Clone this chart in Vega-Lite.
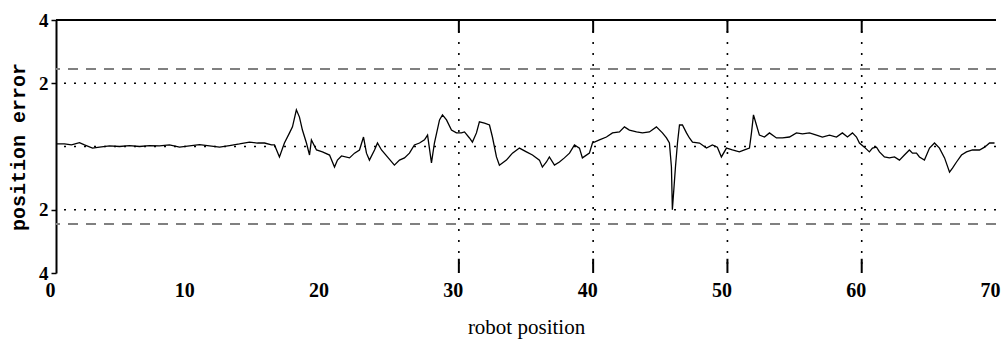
{
  "$schema": "https://vega.github.io/schema/vega-lite/v6.json",
  "autosize": "none",
  "width": 940,
  "height": 253,
  "padding": {"left": 56, "top": 20, "right": 8, "bottom": 70},
  "background": "white",
  "config": {"view": {"stroke": null}},
  "datasets": {
    "hgrid": [{"y": 2}, {"y": 0}, {"y": -2}],
    "bounds": [{"y": 2.45}, {"y": -2.45}],
    "vgrid": [{"x": 30}, {"x": 40}, {"x": 50}, {"x": 60}],
    "err": [
      {"x": 0.04, "y": 0.08}, {"x": 0.63, "y": 0.08}, {"x": 1.15, "y": 0.05}, {"x": 1.75, "y": 0.12},
      {"x": 2.12, "y": 0.05}, {"x": 2.72, "y": -0.05}, {"x": 3.24, "y": -0.02}, {"x": 3.98, "y": 0.02},
      {"x": 4.73, "y": 0.0}, {"x": 5.47, "y": 0.03}, {"x": 6.22, "y": 0.0}, {"x": 6.96, "y": 0.03},
      {"x": 7.71, "y": 0.02}, {"x": 8.45, "y": 0.05}, {"x": 9.2, "y": -0.02}, {"x": 9.94, "y": 0.02},
      {"x": 10.69, "y": 0.06}, {"x": 11.43, "y": 0.02}, {"x": 12.18, "y": -0.02}, {"x": 12.92, "y": 0.03},
      {"x": 13.66, "y": 0.08}, {"x": 14.41, "y": 0.14}, {"x": 15.0, "y": 0.11}, {"x": 15.53, "y": 0.11},
      {"x": 16.05, "y": 0.05}, {"x": 16.27, "y": 0.05}, {"x": 16.64, "y": -0.33}, {"x": 17.01, "y": 0.11},
      {"x": 17.39, "y": 0.43}, {"x": 17.61, "y": 0.62}, {"x": 17.9, "y": 1.16}, {"x": 18.13, "y": 0.93},
      {"x": 18.35, "y": 0.52}, {"x": 18.65, "y": 0.11}, {"x": 18.88, "y": -0.27}, {"x": 19.02, "y": 0.21},
      {"x": 19.4, "y": -0.11}, {"x": 19.84, "y": -0.17}, {"x": 20.37, "y": -0.27}, {"x": 20.74, "y": -0.65},
      {"x": 20.96, "y": -0.43}, {"x": 21.26, "y": -0.3}, {"x": 21.86, "y": -0.36}, {"x": 22.23, "y": -0.21},
      {"x": 22.6, "y": -0.11}, {"x": 22.9, "y": 0.3}, {"x": 23.12, "y": -0.21}, {"x": 23.34, "y": -0.43},
      {"x": 23.72, "y": -0.11}, {"x": 23.94, "y": 0.11}, {"x": 24.24, "y": -0.11}, {"x": 24.68, "y": -0.33},
      {"x": 25.2, "y": -0.59}, {"x": 25.58, "y": -0.43}, {"x": 25.95, "y": -0.36}, {"x": 26.32, "y": -0.21},
      {"x": 26.69, "y": 0.05}, {"x": 27.07, "y": 0.11}, {"x": 27.44, "y": 0.21}, {"x": 27.67, "y": 0.36},
      {"x": 27.96, "y": -0.52}, {"x": 28.18, "y": 0.11}, {"x": 28.56, "y": 0.84}, {"x": 28.78, "y": 1.0},
      {"x": 29.08, "y": 0.84}, {"x": 29.45, "y": 0.52}, {"x": 29.82, "y": 0.43}, {"x": 30.19, "y": 0.43},
      {"x": 30.42, "y": 0.46}, {"x": 30.79, "y": 0.27}, {"x": 31.01, "y": 0.14}, {"x": 31.31, "y": 0.43},
      {"x": 31.53, "y": 0.78}, {"x": 31.91, "y": 0.74}, {"x": 32.28, "y": 0.68}, {"x": 32.5, "y": 0.3},
      {"x": 32.8, "y": -0.33}, {"x": 33.02, "y": -0.59}, {"x": 33.54, "y": -0.43}, {"x": 33.99, "y": -0.21},
      {"x": 34.51, "y": -0.05}, {"x": 35.03, "y": -0.17}, {"x": 35.48, "y": -0.27}, {"x": 36.0, "y": -0.43},
      {"x": 36.22, "y": -0.65}, {"x": 36.52, "y": -0.49}, {"x": 36.74, "y": -0.33}, {"x": 37.12, "y": -0.59},
      {"x": 37.49, "y": -0.49}, {"x": 37.86, "y": -0.36}, {"x": 38.24, "y": -0.21}, {"x": 38.61, "y": 0.05},
      {"x": 38.98, "y": -0.05}, {"x": 39.2, "y": -0.36}, {"x": 39.72, "y": -0.21}, {"x": 39.95, "y": 0.11},
      {"x": 40.47, "y": 0.21}, {"x": 40.99, "y": 0.3}, {"x": 41.44, "y": 0.43}, {"x": 41.96, "y": 0.46},
      {"x": 42.33, "y": 0.62}, {"x": 42.7, "y": 0.52}, {"x": 43.23, "y": 0.46}, {"x": 43.67, "y": 0.43},
      {"x": 44.19, "y": 0.46}, {"x": 44.71, "y": 0.62}, {"x": 45.16, "y": 0.43}, {"x": 45.46, "y": 0.27},
      {"x": 45.68, "y": 0.11}, {"x": 45.83, "y": -0.65}, {"x": 45.9, "y": -2.0}, {"x": 46.13, "y": -0.65},
      {"x": 46.28, "y": 0.11}, {"x": 46.43, "y": 0.68}, {"x": 46.65, "y": 0.68}, {"x": 46.95, "y": 0.43},
      {"x": 47.17, "y": 0.27}, {"x": 47.4, "y": 0.14}, {"x": 47.92, "y": 0.11}, {"x": 48.44, "y": -0.05},
      {"x": 48.88, "y": 0.05}, {"x": 49.25, "y": -0.02}, {"x": 49.55, "y": -0.33}, {"x": 49.93, "y": -0.05},
      {"x": 50.37, "y": -0.11}, {"x": 50.89, "y": -0.17}, {"x": 51.27, "y": -0.11}, {"x": 51.64, "y": -0.05},
      {"x": 51.79, "y": 0.43}, {"x": 51.94, "y": 1.0}, {"x": 52.16, "y": 0.68}, {"x": 52.38, "y": 0.36},
      {"x": 52.76, "y": 0.3}, {"x": 53.13, "y": 0.43}, {"x": 53.65, "y": 0.27}, {"x": 54.1, "y": 0.27},
      {"x": 54.62, "y": 0.3}, {"x": 55.14, "y": 0.43}, {"x": 55.59, "y": 0.4}, {"x": 56.11, "y": 0.43},
      {"x": 56.63, "y": 0.36}, {"x": 57.07, "y": 0.3}, {"x": 57.6, "y": 0.36}, {"x": 58.12, "y": 0.3},
      {"x": 58.56, "y": 0.43}, {"x": 58.94, "y": 0.3}, {"x": 59.31, "y": 0.43}, {"x": 59.61, "y": 0.3},
      {"x": 59.83, "y": 0.11}, {"x": 60.2, "y": -0.02}, {"x": 60.57, "y": -0.17}, {"x": 60.8, "y": -0.05},
      {"x": 61.1, "y": -0.02}, {"x": 61.32, "y": -0.17}, {"x": 61.69, "y": -0.33}, {"x": 62.06, "y": -0.36},
      {"x": 62.44, "y": -0.33}, {"x": 62.81, "y": -0.43}, {"x": 63.18, "y": -0.27}, {"x": 63.55, "y": -0.11},
      {"x": 63.78, "y": -0.21}, {"x": 64.08, "y": -0.21}, {"x": 64.3, "y": -0.33}, {"x": 64.67, "y": -0.43},
      {"x": 65.05, "y": -0.05}, {"x": 65.42, "y": 0.11}, {"x": 65.79, "y": -0.05}, {"x": 66.17, "y": -0.36},
      {"x": 66.54, "y": -0.81}, {"x": 66.76, "y": -0.68}, {"x": 67.06, "y": -0.49}, {"x": 67.43, "y": -0.27},
      {"x": 67.8, "y": -0.17}, {"x": 68.25, "y": -0.11}, {"x": 68.77, "y": -0.11}, {"x": 69.15, "y": -0.02},
      {"x": 69.52, "y": 0.11}, {"x": 69.89, "y": 0.11}
    ]
  },
  "layer": [
    {
      "data": {"name": "err"},
      "mark": {"type": "line", "color": "black", "strokeWidth": 1.3, "interpolate": "linear"},
      "encoding": {
        "x": {
          "field": "x", "type": "quantitative", "title": "robot position",
          "scale": {"domain": [0, 70], "nice": false, "zero": false},
          "axis": {
            "values": [0, 10, 20, 30, 40, 50, 60, 70],
            "domain": false, "ticks": false, "grid": false,
            "labelFlush": false, "labelPadding": 7, "labelOffset": -6,
            "labelFont": "Liberation Serif", "labelFontSize": 20, "labelFontWeight": "bold", "labelColor": "black",
            "titleFont": "Liberation Serif", "titleFontSize": 21,
            "titleFontWeight": "normal", "titleColor": "black", "titlePadding": 16
          }
        },
        "y": {
          "field": "y", "type": "quantitative", "title": "position error",
          "scale": {"domain": [-4, 4], "nice": false, "zero": false},
          "axis": {
            "values": [-4, -2, 2, 4],
            "labelExpr": "format(abs(datum.value), 'd')",
            "domain": true, "domainColor": "black", "domainWidth": 2,
            "ticks": true, "tickSize": 5, "tickColor": "black", "tickWidth": 1.5,
            "grid": false, "labelPadding": 3,
            "labelFont": "Liberation Serif", "labelFontSize": 19, "labelFontWeight": "bold", "labelColor": "black",
            "titleFont": "Liberation Mono", "titleFontSize": 20,
            "titleFontWeight": "bold", "titleColor": "black", "titlePadding": 10
          }
        }
      }
    },
    {
      "data": {"name": "hgrid"},
      "mark": {"type": "rule", "color": "black", "strokeWidth": 1.6, "strokeDash": [2, 8]},
      "encoding": {"y": {"field": "y", "type": "quantitative", "title": "position error"}}
    },
    {
      "data": {"name": "bounds"},
      "mark": {"type": "rule", "color": "#808080", "strokeWidth": 2, "strokeDash": [10, 8]},
      "encoding": {"y": {"field": "y", "type": "quantitative", "title": "position error"}}
    },
    {
      "data": {"name": "vgrid"},
      "mark": {"type": "rule", "color": "black", "strokeWidth": 1.6, "strokeDash": [2, 9]},
      "encoding": {"x": {"field": "x", "type": "quantitative", "title": "robot position"}}
    },
    {
      "data": {"name": "vgrid"},
      "mark": {"type": "rule", "color": "black", "strokeWidth": 2},
      "encoding": {
        "x": {"field": "x", "type": "quantitative", "title": "robot position"},
        "y": {"datum": 4, "type": "quantitative"},
        "y2": {"datum": 3.6}
      }
    },
    {
      "data": {"name": "vgrid"},
      "mark": {"type": "rule", "color": "black", "strokeWidth": 2},
      "encoding": {
        "x": {"field": "x", "type": "quantitative", "title": "robot position"},
        "y": {"datum": -4, "type": "quantitative"},
        "y2": {"datum": -3.55}
      }
    },
    {
      "data": {"values": [{"y": 4}]},
      "mark": {"type": "rule", "color": "black", "strokeWidth": 2},
      "encoding": {"y": {"field": "y", "type": "quantitative", "title": "position error"}}
    }
  ]
}
